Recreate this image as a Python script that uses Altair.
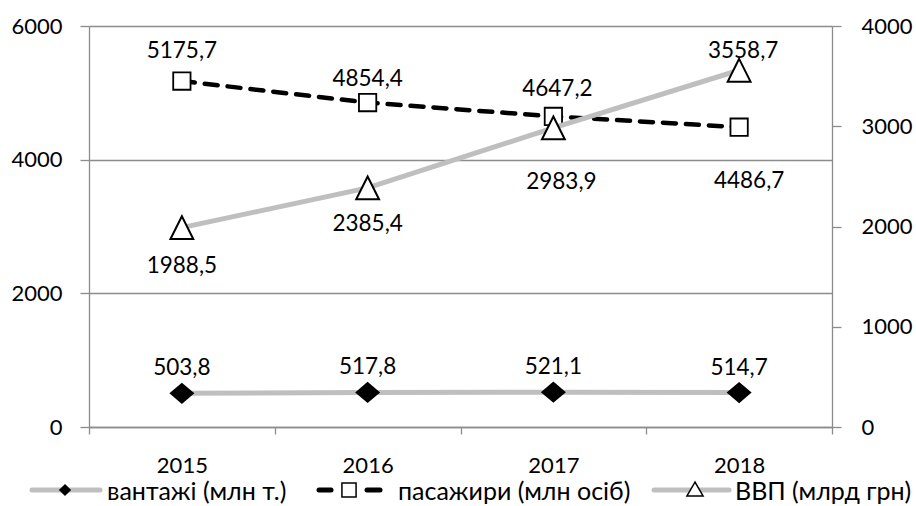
import altair as alt
import pandas as pd

# ---- data ----
years = ["2015", "2016", "2017", "2018"]
vantazhi = [503.8, 517.8, 521.1, 514.7]
pasazhyry = [5175.7, 4854.4, 4647.2, 4486.7]
vvp = [1988.5, 2385.4, 2983.9, 3558.7]
series_names = ["вантажі (млн т.)", "пасажири (млн осіб)", "ВВП (млрд грн)"]
left_ticks = [0, 2000, 4000, 6000]
right_ticks = [0, 1000, 2000, 3000, 4000]


def frame(vals):
    return pd.DataFrame({
        "year": years,
        "v": vals,
        "label": [f"{x:.1f}".replace(".", ",") for x in vals],
    })


df_v = frame(vantazhi)
df_p = frame(pasazhyry)
df_g = frame(vvp)

FONT = "Lato"
FS_AX = 22
FS_LAB = 22.5
FS_LEG = 25
GRID = "#8c8c8c"
LGRAY = "#bfbfbf"

x_enc = alt.X(
    "year:O",
    scale=alt.Scale(type="band", paddingInner=0, paddingOuter=0),
    axis=alt.Axis(title=None, labelAngle=0, tickBand="extent", tickSize=7,
                  labelPadding=21, domainColor=GRID, tickColor=GRID,
                  domainWidth=1.3, tickWidth=1.3, labelFont=FONT,
                  labelFontSize=FS_AX, labelColor="black", grid=False),
)

y_left = alt.Y(
    "v:Q",
    scale=alt.Scale(domain=[0, 6000], nice=False),
    axis=alt.Axis(title=None, values=left_ticks, format="d", orient="left",
                  grid=True, gridColor=GRID, gridWidth=1.3, tickSize=9,
                  tickColor=GRID, tickWidth=1.3, domainColor=GRID,
                  domainWidth=1.3, labelPadding=18, labelFont=FONT,
                  labelFontSize=FS_AX, labelColor="black"),
)

y_right = alt.Y(
    "v:Q",
    scale=alt.Scale(domain=[0, 4000], nice=False),
    axis=alt.Axis(title=None, values=right_ticks, format="d", orient="right",
                  grid=False, tickSize=9, tickColor=GRID, tickWidth=1.3,
                  domainColor=GRID, domainWidth=1.3, labelPadding=20,
                  labelFont=FONT, labelFontSize=FS_AX, labelColor="black"),
)

DIAMOND = "M-1,0L0,-0.85L1,0L0,0.85Z"
TRIANGLE = "M0,-1L1,1L-1,1Z"


def labels(df, y_enc, placements):
    out = []
    for yr, dx, dy in placements:
        out.append(
            alt.Chart(df).transform_filter(alt.datum.year == yr)
            .mark_text(font=FONT, fontSize=FS_LAB, color="black", baseline="middle",
                       align="center", dx=dx, dy=dy)
            .encode(x=x_enc, y=y_enc, text="label:N")
        )
    return out


# left-axis series
line_v = alt.Chart(df_v).mark_line(color=LGRAY, strokeWidth=5).encode(x=x_enc, y=y_left)
line_p = alt.Chart(df_p).mark_line(color="black", strokeWidth=4.5,
                                   strokeDash=[13, 10], strokeCap="round").encode(x=x_enc, y=y_left)
pts_v = alt.Chart(df_v).mark_point(shape=DIAMOND, size=625, filled=True,
                                   color="black", opacity=1).encode(x=x_enc, y=y_left)
pts_p = alt.Chart(df_p).mark_point(shape="square", size=300, fill="white",
                                   stroke="black", strokeWidth=1.8,
                                   opacity=1, fillOpacity=1).encode(x=x_enc, y=y_left)

lab_v = labels(df_v, y_left, [(y, 0, -25) for y in years])
lab_p = labels(df_p, y_left, [("2015", 0, -30), ("2016", 0, -24),
                              ("2017", 4, -27), ("2018", 10, 54)])

left = alt.layer(line_v, line_p, pts_v, pts_p, *lab_v, *lab_p)

# right-axis series
line_g = alt.Chart(df_g).mark_line(color=LGRAY, strokeWidth=5).encode(x=x_enc, y=y_right)
pts_g = alt.Chart(df_g).mark_point(shape=TRIANGLE, size=520, fill="white",
                                   stroke="black", strokeWidth=2,
                                   opacity=1, fillOpacity=1).encode(x=x_enc, y=y_right)
lab_g = labels(df_g, y_right, [("2015", 0, 38), ("2016", 0, 36),
                               ("2017", 8, 54), ("2018", 4, -19)])

right = alt.layer(line_g, pts_g, *lab_g)

# ---- manual legend (pixel positions relative to plot area) ----
LY = 464
leg_df = [pd.DataFrame({"t": [n]}) for n in series_names]

leg = [
    alt.Chart(leg_df[0]).mark_rule(color=LGRAY, strokeWidth=5, strokeCap="round")
    .encode(x=alt.value(-57), x2=alt.value(11), y=alt.value(LY)),
    alt.Chart(leg_df[0]).mark_point(shape="diamond", size=150, filled=True,
                                    color="black", opacity=1)
    .encode(x=alt.value(-24), y=alt.value(LY)),
    alt.Chart(leg_df[0]).mark_text(font=FONT, fontSize=FS_LEG, align="left",
                                   baseline="middle", color="black")
    .encode(x=alt.value(18), y=alt.value(LY + 2), text="t:N"),

    alt.Chart(leg_df[1]).mark_rule(color="black", strokeWidth=5, strokeCap="round")
    .encode(x=alt.value(230), x2=alt.value(242), y=alt.value(LY)),
    alt.Chart(leg_df[1]).mark_rule(color="black", strokeWidth=5, strokeCap="round")
    .encode(x=alt.value(278), x2=alt.value(291), y=alt.value(LY)),
    alt.Chart(leg_df[1]).mark_point(shape="square", size=200, fill="white",
                                    stroke="black", strokeWidth=1.5,
                                    opacity=1, fillOpacity=1)
    .encode(x=alt.value(260), y=alt.value(LY)),
    alt.Chart(leg_df[1]).mark_text(font=FONT, fontSize=FS_LEG, align="left",
                                   baseline="middle", color="black")
    .encode(x=alt.value(309), y=alt.value(LY + 2), text="t:N"),

    alt.Chart(leg_df[2]).mark_rule(color=LGRAY, strokeWidth=5, strokeCap="round")
    .encode(x=alt.value(565), x2=alt.value(640), y=alt.value(LY)),
    alt.Chart(leg_df[2]).mark_point(shape="triangle-up", size=260, fill="white",
                                    stroke="black", strokeWidth=1.5,
                                    opacity=1, fillOpacity=1)
    .encode(x=alt.value(606), y=alt.value(LY - 1)),
    alt.Chart(leg_df[2]).mark_text(font=FONT, fontSize=FS_LEG, align="left",
                                   baseline="middle", color="black")
    .encode(x=alt.value(646), y=alt.value(LY + 2), text="t:N"),
]

chart = (
    alt.layer(left, right, *leg)
    .resolve_scale(y="independent")
    .properties(
        width=743, height=401,
        autosize=alt.AutoSizeParams(type="none"),
        padding={"left": 89, "top": 26, "right": 84, "bottom": 79},
        background="white",
    )
    .configure_view(stroke=None)
)

chart.save("out.html", embed_options={"renderer": "svg", "actions": False})
